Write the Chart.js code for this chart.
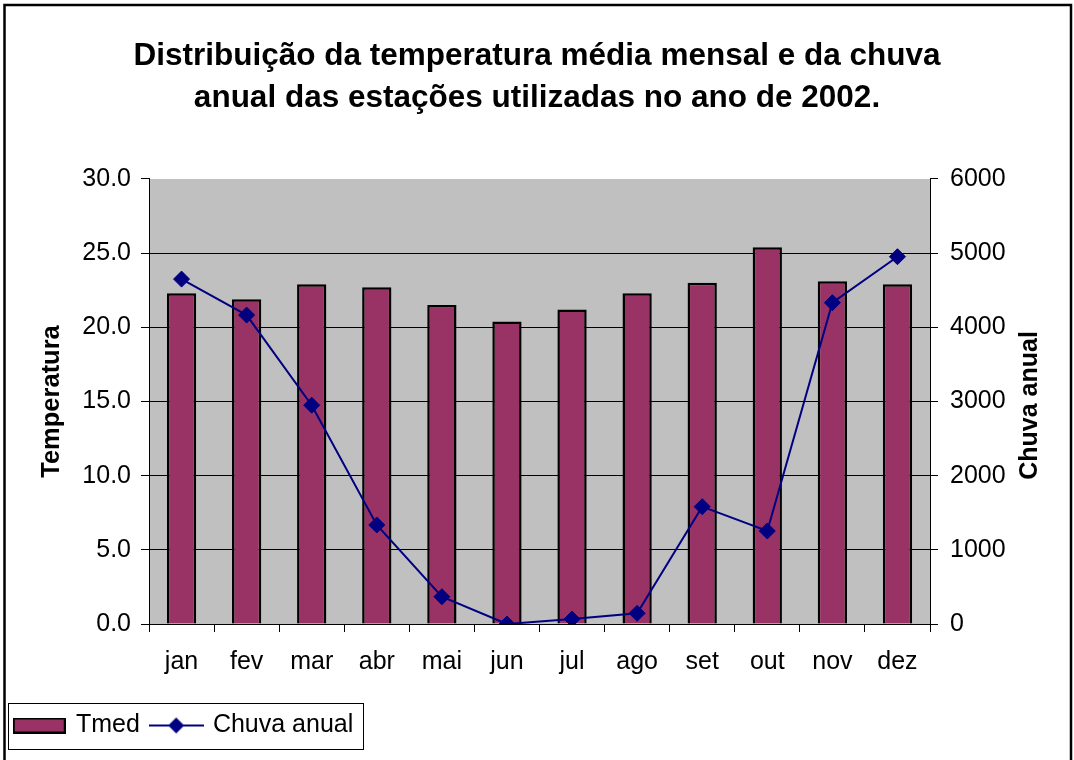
<!DOCTYPE html>
<html>
<head>
<meta charset="utf-8">
<script src="https://cdn.jsdelivr.net/npm/chart.js@4/dist/chart.umd.min.js"></script>
<style>
  html, body { margin: 0; padding: 0; background: #ffffff; }
  #wrap { width: 1074px; height: 760px; position: relative; }
</style>
</head>
<body>
<div id="wrap"><canvas id="c" width="1074" height="760"></canvas></div>
<script>
const months = ['jan', 'fev', 'mar', 'abr', 'mai', 'jun', 'jul', 'ago', 'set', 'out', 'nov', 'dez'];
const tmed = [22.3, 21.9, 22.9, 22.7, 21.5, 20.4, 21.2, 22.3, 23.0, 25.4, 23.1, 22.9];
const chuvaAnual = [4650, 4165, 2950, 1335, 368, 0, 67, 144, 1582, 1254, 4332, 4952];
const titleLines = ['Distribuição da temperatura média mensal e da chuva', 'anual das estações utilizadas no ano de 2002.'];
const seriesNames = ['Tmed', 'Chuva anual'];
const leftTitle = 'Temperatura';
const rightTitle = 'Chuva anual';

const FONT = "'Liberation Sans', Arial, Helvetica, sans-serif";
const BAR_COLOR = '#993366';
const LINE_COLOR = '#000080';

function barSwatch() {
  const c = document.createElement('canvas');
  c.width = 53; c.height = 16;
  const x = c.getContext('2d');
  x.fillStyle = BAR_COLOR;
  x.fillRect(1, 1, 51, 14);
  x.strokeStyle = '#000';
  x.lineWidth = 2;
  x.strokeRect(1, 1, 51, 14);
  return c;
}
function lineSwatch() {
  const c = document.createElement('canvas');
  c.width = 55; c.height = 18;
  const x = c.getContext('2d');
  x.strokeStyle = LINE_COLOR;
  x.lineWidth = 2;
  x.beginPath(); x.moveTo(0, 9); x.lineTo(55, 9); x.stroke();
  x.fillStyle = LINE_COLOR;
  x.beginPath();
  x.moveTo(27.5, 1); x.lineTo(35.5, 9); x.lineTo(27.5, 17); x.lineTo(19.5, 9); x.closePath();
  x.fill();
  return c;
}
const swatches = [barSwatch(), lineSwatch()];

const decor = {
  id: 'decor',
  beforeDraw(chart) {
    const {ctx, chartArea: a} = chart;
    ctx.save();
    ctx.fillStyle = '#C0C0C0';
    ctx.fillRect(a.left, a.top, a.right - a.left, a.bottom - a.top);
    ctx.restore();
  },
  afterDraw(chart) {
    const ctx = chart.ctx;
    ctx.save();
    ctx.strokeStyle = '#000';
    ctx.lineWidth = 2.5;
    ctx.strokeRect(4.5, 5, 1066.5, 800);
    const hb = chart.legend.legendHitBoxes;
    if (hb && hb.length) {
      const first = hb[0], last = hb[hb.length - 1];
      const cy = first.top + first.height / 2;
      const l = first.left - 7;
      const r = last.left + last.width + 10;
      ctx.lineWidth = 1;
      ctx.strokeStyle = '#000';
      ctx.strokeRect(Math.round(l) + 0.5, Math.round(cy - 23) + 0.5, Math.round(r - l), 46);
    }
    // right axis title, reading bottom-to-top like the left one
    const a = chart.chartArea;
    ctx.fillStyle = '#000';
    ctx.font = 'bold 25px ' + FONT;
    ctx.textAlign = 'center';
    ctx.textBaseline = 'middle';
    ctx.translate(1030, (a.top + a.bottom) / 2 + 4);
    ctx.rotate(-Math.PI / 2);
    ctx.fillText(rightTitle, 0, 0);
    ctx.restore();
  }
};

new Chart(document.getElementById('c'), {
  data: {
    labels: months,
    datasets: [
      {
        type: 'bar',
        label: seriesNames[0],
        data: tmed,
        yAxisID: 'y',
        backgroundColor: BAR_COLOR,
        borderColor: '#000',
        borderWidth: 2.5,
        barPercentage: 0.45,
        categoryPercentage: 1.0,
        order: 1
      },
      {
        type: 'line',
        label: seriesNames[1],
        data: chuvaAnual,
        yAxisID: 'y1',
        borderColor: LINE_COLOR,
        backgroundColor: LINE_COLOR,
        borderWidth: 2,
        pointStyle: 'rectRot',
        pointRadius: 8,
        pointBackgroundColor: LINE_COLOR,
        pointBorderColor: LINE_COLOR,
        pointBorderWidth: 1,
        tension: 0,
        fill: false,
        order: 0
      }
    ]
  },
  options: {
    responsive: false,
    animation: false,
    devicePixelRatio: 1,
    layout: { padding: { top: 0, left: 3, right: 3, bottom: 12 } },
    plugins: {
      tooltip: { enabled: false },
      title: {
        display: true,
        text: titleLines,
        color: '#000',
        font: { family: FONT, size: 31.5, weight: 'bold', lineHeight: 1.333 },
        padding: { top: 35, bottom: 60 }
      },
      legend: {
        display: true,
        position: 'bottom',
        align: 'start',
        labels: {
          usePointStyle: true,
          pointStyleWidth: 48.5,
          padding: 12,
          color: '#000',
          font: { family: FONT, size: 25 },
          sort: (a, b) => a.datasetIndex - b.datasetIndex,
          generateLabels(chart) {
            const items = Chart.defaults.plugins.legend.labels.generateLabels(chart);
            items.forEach((it) => { it.pointStyle = swatches[it.datasetIndex]; it.fontColor = '#000'; });
            return items;
          }
        }
      }
    },
    scales: {
      x: {
        type: 'category',
        offset: true,
        grid: { display: true, drawOnChartArea: false, offset: true, tickLength: 8, color: '#000', tickColor: '#000' },
        border: { display: true, color: '#000', width: 1 },
        ticks: { color: '#000', font: { family: FONT, size: 25 }, padding: 15, maxRotation: 0, autoSkip: false },
        afterFit(scale) { scale.height = 77; }
      },
      y: {
        type: 'linear',
        position: 'left',
        min: 0,
        max: 30,
        grid: {
          color: (c) => (c.tick && c.tick.value === 30) ? 'rgba(0,0,0,0)' : '#000',
          tickColor: '#000',
          tickLength: 8,
          lineWidth: 1
        },
        border: { display: true, color: '#000', width: 1 },
        ticks: {
          stepSize: 5,
          color: '#000',
          padding: 10,
          font: { family: FONT, size: 25 },
          callback: (v) => Number(v).toFixed(1)
        },
        title: {
          display: true,
          text: leftTitle,
          color: '#000',
          font: { family: FONT, size: 25.5, weight: 'bold', lineHeight: 1.2 },
          padding: { top: 34, bottom: 0 }
        },
        afterFit(scale) { scale.width = 146; }
      },
      y1: {
        type: 'linear',
        position: 'right',
        min: 0,
        max: 6000,
        grid: { drawOnChartArea: false, tickColor: '#000', tickLength: 8, color: '#000' },
        border: { display: true, color: '#000', width: 1 },
        ticks: {
          stepSize: 1000,
          color: '#000',
          padding: 12,
          font: { family: FONT, size: 25 },
          callback: (v) => String(v)
        },
        afterFit(scale) { scale.width = 141; }
      }
    }
  },
  plugins: [decor]
});
</script>
</body>
</html>
